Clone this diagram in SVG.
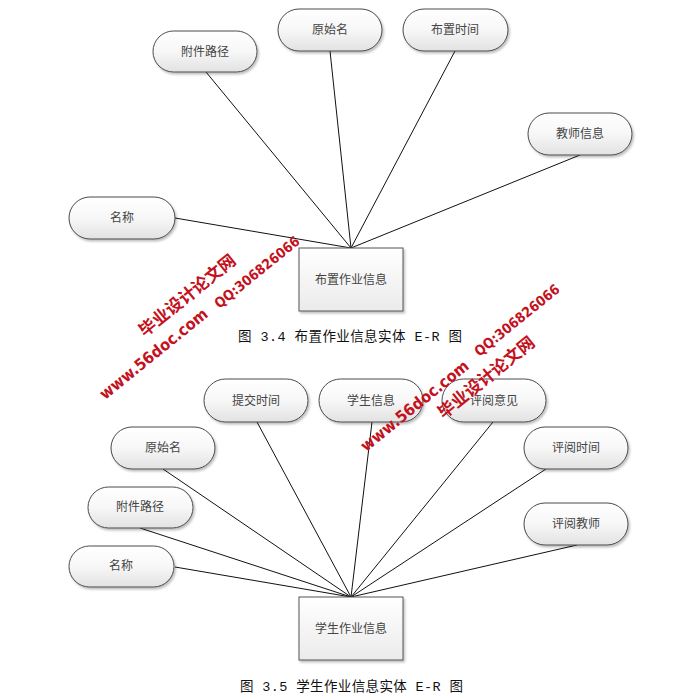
<svg xmlns="http://www.w3.org/2000/svg" width="686" height="699" viewBox="0 0 686 699">
<style>
.pill{fill:url(#g);stroke:#4a4a4a;stroke-width:1;filter:url(#sh)}
.box{fill:url(#g2);stroke:#555;stroke-width:1;filter:url(#sh)}
.t{font-family:"Noto Sans CJK SC","Noto Sans",sans-serif;font-size:12px;fill:#444;text-anchor:middle}
.cap{font-family:"Liberation Mono","Noto Sans CJK SC",monospace;font-size:13.5px;fill:#111}
.c line{stroke:#111;stroke-width:1}
.wm{font-family:"DejaVu Sans","Noto Sans CJK SC",sans-serif;font-weight:bold;fill:#c3121e;text-anchor:middle}
</style>
<defs>
<linearGradient id="g" x1="0" y1="0" x2="0" y2="1"><stop offset="0" stop-color="#ffffff"/><stop offset="0.5" stop-color="#f7f7f7"/><stop offset="1" stop-color="#e2e2e2"/></linearGradient>
<linearGradient id="g2" x1="0" y1="0" x2="0" y2="1"><stop offset="0" stop-color="#ffffff"/><stop offset="1" stop-color="#ebebeb"/></linearGradient>
<filter id="sh" x="-10%" y="-10%" width="130%" height="140%"><feDropShadow dx="1.5" dy="2" stdDeviation="1.2" flood-color="#000" flood-opacity="0.25"/></filter>
</defs>
<rect width="686" height="699" fill="#fff"/>

<g class="c" id="connectors">
<line x1="206" y1="72" x2="351" y2="248"/>
<line x1="330" y1="51" x2="351" y2="248"/>
<line x1="455" y1="51" x2="351" y2="248"/>
<line x1="580" y1="155" x2="351" y2="248"/>
<line x1="175" y1="218" x2="351" y2="248"/>
<line x1="257" y1="422" x2="351" y2="597"/>
<line x1="372" y1="422" x2="351" y2="597"/>
<line x1="493" y1="422" x2="351" y2="597"/>
<line x1="163" y1="469" x2="351" y2="597"/>
<line x1="546" y1="469" x2="351" y2="597"/>
<line x1="140" y1="528" x2="351" y2="597"/>
<line x1="577" y1="545" x2="351" y2="597"/>
<line x1="175" y1="567" x2="351" y2="597"/>
</g>

<g id="a1"><rect class="pill" x="153" y="31" width="104" height="41" rx="20.5"/><text class="t" x="205" y="56">附件路径</text></g>
<g id="a2"><rect class="pill" x="278" y="9" width="104" height="42" rx="21"/><text class="t" x="330" y="34">原始名</text></g>
<g id="a3"><rect class="pill" x="403" y="9" width="105" height="42" rx="21"/><text class="t" x="455" y="34">布置时间</text></g>
<g id="a4"><rect class="pill" x="528" y="113" width="104" height="42" rx="21"/><text class="t" x="580" y="138">教师信息</text></g>
<g id="a5"><rect class="pill" x="69" y="197" width="106" height="42" rx="21"/><text class="t" x="122" y="222">名称</text></g>
<g id="e1"><rect class="box" x="299" y="248" width="104" height="63"/><text class="t" x="351" y="284">布置作业信息</text></g>
<text class="cap" x="238" y="341" textLength="224" lengthAdjust="spacing">图 3.4 布置作业信息实体 E-R 图</text>

<g id="b1"><rect class="pill" x="204" y="379" width="104" height="43" rx="21.5"/><text class="t" x="256" y="405">提交时间</text></g>
<g id="b2"><rect class="pill" x="319" y="379" width="104" height="43" rx="21.5"/><text class="t" x="371" y="405">学生信息</text></g>
<g id="b3"><rect class="pill" x="442" y="379" width="104" height="43" rx="21.5"/><text class="t" x="494" y="405">评阅意见</text></g>
<g id="b4"><rect class="pill" x="111" y="427" width="104" height="42" rx="21"/><text class="t" x="163" y="452">原始名</text></g>
<g id="b5"><rect class="pill" x="524" y="427" width="104" height="42" rx="21"/><text class="t" x="576" y="452">评阅时间</text></g>
<g id="b6"><rect class="pill" x="88" y="487" width="105" height="41" rx="20.5"/><text class="t" x="140" y="511">附件路径</text></g>
<g id="b7"><rect class="pill" x="524" y="503" width="104" height="42" rx="21"/><text class="t" x="576" y="528">评阅教师</text></g>
<g id="b8"><rect class="pill" x="69" y="546" width="105" height="41" rx="20.5"/><text class="t" x="121" y="570">名称</text></g>
<g id="e2"><rect class="box" x="299" y="597" width="104" height="63"/><text class="t" x="351" y="633">学生作业信息</text></g>
<text class="cap" x="240" y="691" textLength="223" lengthAdjust="spacing">图 3.5 学生作业信息实体 E-R 图</text>

<g id="wm1">
<text class="wm" font-size="17" transform="translate(191,300) rotate(-39)" textLength="119" lengthAdjust="spacingAndGlyphs">毕业设计论文网</text>
<text class="wm" font-size="14" transform="translate(260,276) rotate(-39)" textLength="105" lengthAdjust="spacingAndGlyphs">QQ:306826066</text>
<text class="wm" font-size="16" transform="translate(157,358) rotate(-39)" textLength="134" lengthAdjust="spacingAndGlyphs">www.56doc.com</text>
</g>
<g id="wm2">
<text class="wm" font-size="17" transform="translate(490,382) rotate(-39)" textLength="119" lengthAdjust="spacingAndGlyphs">毕业设计论文网</text>
<text class="wm" font-size="14" transform="translate(520,324) rotate(-39)" textLength="105" lengthAdjust="spacingAndGlyphs">QQ:306826066</text>
<text class="wm" font-size="16" transform="translate(418,410) rotate(-39)" textLength="134" lengthAdjust="spacingAndGlyphs">www.56doc.com</text>
</g>
</svg>
